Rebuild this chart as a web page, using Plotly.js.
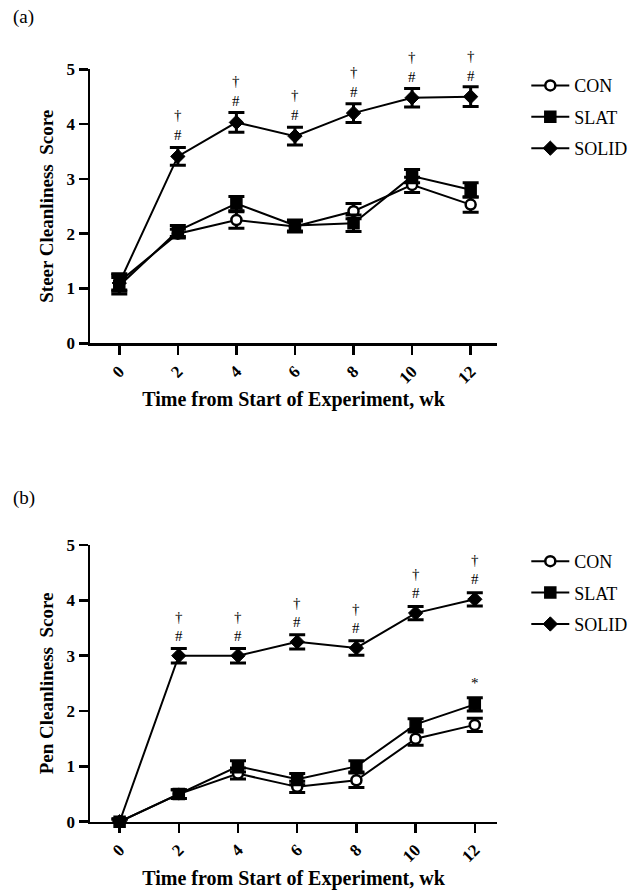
<!DOCTYPE html>
<html>
<head>
<meta charset="utf-8">
<script src="https://cdn.plot.ly/plotly-3.0.1.min.js"></script>
<style>html,body{margin:0;padding:0;background:#fff;}#chart{width:643px;height:896px;}</style>
</head>
<body>
<div id="chart"></div>
<script>
// ---- data ----
const weeks = [0, 2, 4, 6, 8, 10, 12];
const tickLabels = ['0', '2', '4', '6', '8', '10', '12'];
const seriesNames = ['CON', 'SLAT', 'SOLID'];

// Panel (a) Steer cleanliness score
const steerCON = [1.12, 2.0, 2.25, 2.13, 2.41, 2.89, 2.53];
const steerCONerr = [0.15, 0.08, 0.15, 0.10, 0.14, 0.14, 0.14];
const steerSLAT = [1.05, 2.05, 2.55, 2.15, 2.19, 3.05, 2.80];
const steerSLATerr = [0.15, 0.10, 0.13, 0.10, 0.15, 0.12, 0.13];
const steerSOLID = [1.10, 3.41, 4.03, 3.78, 4.20, 4.48, 4.50];
const steerSOLIDerr = [0.15, 0.16, 0.18, 0.16, 0.17, 0.17, 0.18];

// Panel (b) Pen cleanliness score
const penCON = [0.0, 0.50, 0.87, 0.63, 0.75, 1.50, 1.75];
const penCONerr = [0.05, 0.08, 0.10, 0.10, 0.13, 0.12, 0.12];
const penSLAT = [0.0, 0.50, 1.00, 0.77, 1.00, 1.76, 2.12];
const penSLATerr = [0.05, 0.08, 0.10, 0.10, 0.10, 0.10, 0.12];
const penSOLID = [0.0, 3.00, 3.00, 3.25, 3.14, 3.77, 4.02];
const penSOLIDerr = [0.05, 0.13, 0.13, 0.13, 0.13, 0.12, 0.12];

// significance marks
const steerSigWeeks = [2, 4, 6, 8, 10, 12];
const penSigWeeks = [2, 4, 6, 8, 10, 12];
const penStarWeeks = [12];

const FONT = "'Liberation Serif', 'Times New Roman', serif";

const markerStyles = [
  {symbol: 'circle', size: 10, color: 'white', line: {color: 'black', width: 2.5}},
  {symbol: 'square', size: 11, color: 'black', line: {color: 'black', width: 1.5}},
  {symbol: 'diamond', size: 11, color: 'black', line: {color: 'black', width: 1}}
];

function mkTrace(name, y, err, idx, xa, ya, legend) {
  return {
    type: 'scatter', mode: 'lines+markers', name: name,
    x: weeks, y: y, xaxis: xa, yaxis: ya, legend: legend,
    legendgroup: legend + name,
    line: {color: 'black', width: 2},
    marker: markerStyles[idx],
    error_y: {type: 'data', array: err, visible: true, color: 'black', thickness: 3, width: 8},
    cliponaxis: false
  };
}

const data = [
  mkTrace(seriesNames[0], steerCON, steerCONerr, 0, 'x', 'y', 'legend'),
  mkTrace(seriesNames[1], steerSLAT, steerSLATerr, 1, 'x', 'y', 'legend'),
  mkTrace(seriesNames[2], steerSOLID, steerSOLIDerr, 2, 'x', 'y', 'legend'),
  mkTrace(seriesNames[0], penCON, penCONerr, 0, 'x2', 'y2', 'legend2'),
  mkTrace(seriesNames[1], penSLAT, penSLATerr, 1, 'x2', 'y2', 'legend2'),
  mkTrace(seriesNames[2], penSOLID, penSOLIDerr, 2, 'x2', 'y2', 'legend2')
];

const annotations = [];
function addSig(wks, vals, xr, yr, text, shift) {
  wks.forEach(w => {
    const i = weeks.indexOf(w);
    annotations.push({
      x: w, y: vals[i], xref: xr, yref: yr, text: text, showarrow: false,
      yshift: shift, yanchor: 'middle', font: {family: FONT, size: 15, color: 'black'}
    });
  });
}
addSig(steerSigWeeks, steerSOLID, 'x', 'y', '#', 21);
addSig(steerSigWeeks, steerSOLID, 'x', 'y', '†', 41);
addSig(penSigWeeks, penSOLID, 'x2', 'y2', '#', 20);
addSig(penSigWeeks, penSOLID, 'x2', 'y2', '†', 39);
addSig(penStarWeeks, penSLAT, 'x2', 'y2', '*', 21);

annotations.push({text: '(a)', xref: 'paper', yref: 'paper', x: -0.195, y: 0.981, xanchor: 'left', yanchor: 'middle', showarrow: false, font: {family: FONT, size: 19, color: 'black'}});
annotations.push({text: '(b)', xref: 'paper', yref: 'paper', x: -0.195, y: 0.444, xanchor: 'left', yanchor: 'middle', showarrow: false, font: {family: FONT, size: 19, color: 'black'}});

function xAxis(anchor, range) {
  return {
    anchor: anchor, range: range, domain: [0, 1],
    tickvals: weeks, ticktext: tickLabels, tickangle: -45,
    showline: true, linecolor: 'black', linewidth: 2.5,
    ticks: 'outside', ticklen: 9, tickwidth: 2.5, tickcolor: 'black',
    showgrid: false, zeroline: false,
    tickfont: {family: FONT, size: 17, color: 'black', weight: 'bold'},
    title: {text: '<b>Time from Start of Experiment, wk</b>', font: {family: FONT, size: 20, color: 'black'}, standoff: 6}
  };
}
function yAxis(anchor, domain, title) {
  return {
    anchor: anchor, domain: domain, range: [0, 5],
    tickvals: [0, 1, 2, 3, 4, 5],
    showline: true, linecolor: 'black', linewidth: 2.5,
    ticks: 'outside', ticklen: 9, tickwidth: 2.5, tickcolor: 'black',
    showgrid: false, zeroline: false,
    tickfont: {family: FONT, size: 17, color: 'black', weight: 'bold'},
    title: {text: '<b>' + title + '</b>', font: {family: FONT, size: 19, color: 'black'}, standoff: 8}
  };
}

const legendBase = {
  xref: 'paper', yref: 'paper', xanchor: 'left', yanchor: 'top',
  font: {family: FONT, size: 18, color: 'black'},
  bgcolor: 'rgba(0,0,0,0)', itemwidth: 38, tracegroupgap: 5
};

const layout = {
  width: 643, height: 896,
  margin: {l: 90, r: 146, t: 0, b: 0},
  paper_bgcolor: 'white', plot_bgcolor: 'white',
  showlegend: true,
  xaxis: xAxis('y', [-1, 12.9]),
  yaxis: yAxis('x', [0.6169, 0.9227], 'Steer Cleanliness  Score'),
  xaxis2: xAxis('y2', [-1, 12.75]),
  yaxis2: yAxis('x2', [0.0829, 0.3917], 'Pen Cleanliness  Score'),
  legend: Object.assign({}, legendBase, {x: 1.072, y: 0.925}),
  legend2: Object.assign({}, legendBase, {x: 1.072, y: 0.394}),
  annotations: annotations
};

Plotly.newPlot('chart', data, layout, {displayModeBar: false, staticPlot: true});
</script>
</body>
</html>
